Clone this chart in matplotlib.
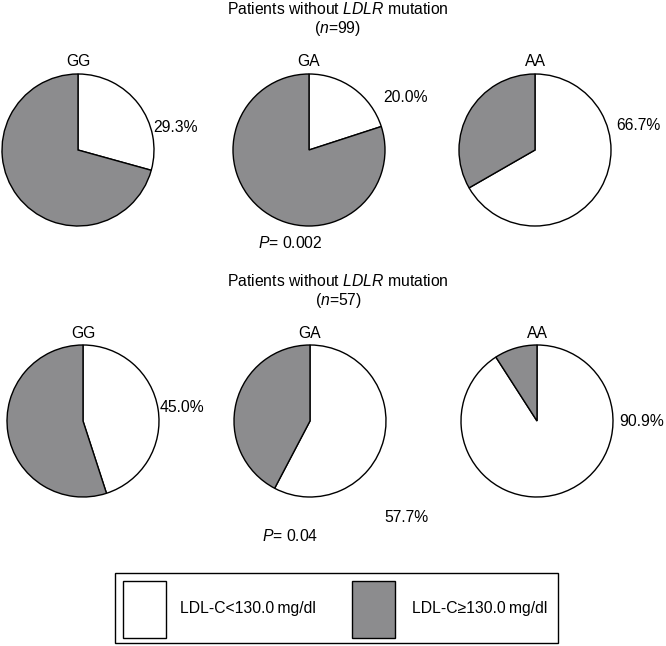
import matplotlib
matplotlib.use('Agg')
import matplotlib.pyplot as plt
from matplotlib.patches import Rectangle

# Share of patients with LDL-C < 130.0 mg/dl, by genotype (percent)
genotypes = ['GG', 'GA', 'AA']
low_top = [29.3, 20.0, 66.7]      # n=99
low_bottom = [45.0, 57.7, 90.9]   # n=57
p_top = '0.002'
p_bottom = '0.04'
n_top = 99
n_bottom = 57
legend_labels = ['LDL-C<130.0\u2009mg/dl', 'LDL-C\u2265130.0\u2009mg/dl']

plt.rcParams['font.family'] = ['Liberation Sans', 'DejaVu Sans']
plt.rcParams['mathtext.fontset'] = 'custom'
plt.rcParams['mathtext.rm'] = 'Liberation Sans'
plt.rcParams['mathtext.it'] = 'Liberation Sans:italic'

W, H = 666, 646
GRAY = '#8c8c8e'
FS = 11.3

fig = plt.figure(figsize=(W/100, H/100), dpi=100)
ax = fig.add_axes([0, 0, 1, 1])

R = 76
# pie centers (x) and row centers (y, image coords)
cx_top = [78, 309, 535]
cx_bot = [83, 310, 537]
cy_top, cy_bot = 150, 421
# percent label positions (image coords)
lab_top = [(176, 127), (405, 98), (638, 126)]
lab_bot = [(182, 407), (406, 518), (642, 422)]

def row(vals, cxs, cy, labs):
    for g, v, cx, (lx, ly) in zip(genotypes, vals, cxs, labs):
        ax.pie([v, 100 - v], colors=['white', GRAY], startangle=90,
               counterclock=False, center=(cx, H - cy), radius=R, frame=True,
               wedgeprops=dict(edgecolor='black', linewidth=1.0))
        ax.text(cx, H - (cy - R - 12), g, ha='center', va='center', fontsize=FS)
        ax.text(lx, H - ly, '%.1f%%' % v, ha='center', va='center', fontsize=FS)

row(low_top, cx_top, cy_top, lab_top)
row(low_bottom, cx_bot, cy_bot, lab_bot)

def title(y, n):
    ax.text(338, H - y, r'Patients without $\mathit{LDLR}$ mutation',
            ha='center', va='center', fontsize=FS)
    ax.text(338, H - (y + 19), r'($\mathit{n}$=%d)' % n,
            ha='center', va='center', fontsize=FS)

title(9, n_top)
title(281, n_bottom)
ax.text(290, H - 243, r'$\mathit{P}$= ' + p_top, ha='center', va='center', fontsize=FS)
ax.text(290, H - 536, r'$\mathit{P}$= ' + p_bottom, ha='center', va='center', fontsize=FS)

# legend box
ax.add_patch(Rectangle((115, H - 643), 443, 70, facecolor='white',
                       edgecolor='black', linewidth=1.0))
for x0, col, lbl, tx in [(123, 'white', legend_labels[0], 180),
                         (352, GRAY, legend_labels[1], 412)]:
    ax.add_patch(Rectangle((x0, H - 638), 43, 57, facecolor=col,
                           edgecolor='black', linewidth=1.0))
    ax.text(tx, H - 609, lbl, ha='left', va='center', fontsize=FS)

ax.set_xlim(0, W)
ax.set_ylim(0, H)
ax.set_aspect('equal')
ax.axis('off')

fig.savefig('out.png', dpi=100)
